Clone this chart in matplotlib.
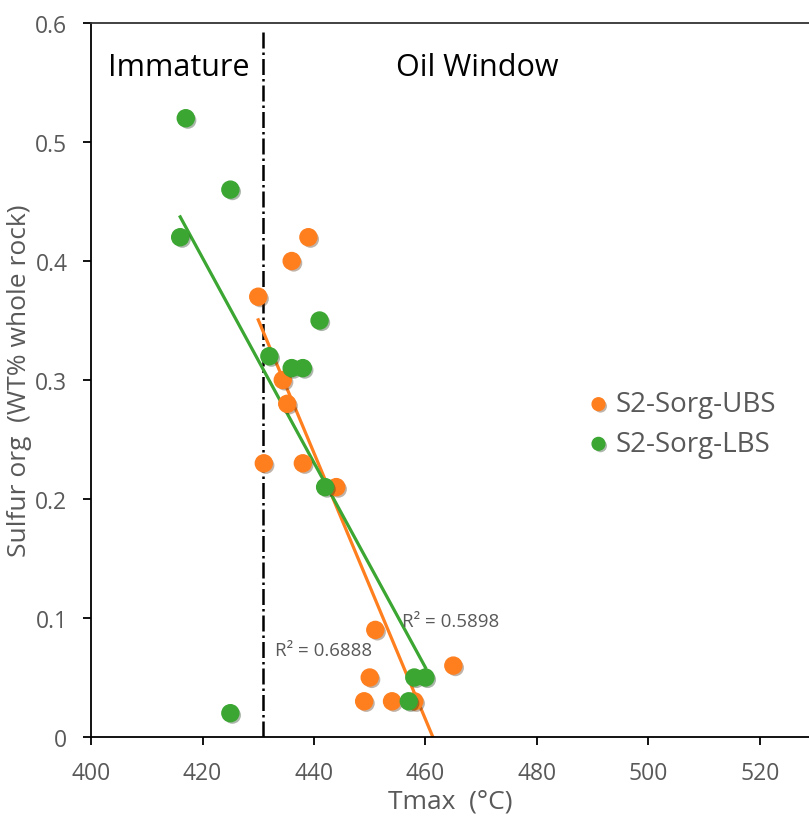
import numpy as np
import matplotlib
matplotlib.use("Agg")
import matplotlib.pyplot as plt
import matplotlib.patheffects as pe

plt.rcParams['font.family'] = ['Open Sans', 'DejaVu Sans']

# S2-Sorg-UBS (orange)
ubs_tmax = [430, 436, 439, 434.4, 435.2, 431, 438, 444, 451, 450, 449, 454, 458, 465]
ubs_sulfur = [0.37, 0.40, 0.42, 0.30, 0.28, 0.23, 0.23, 0.21, 0.09, 0.05, 0.03, 0.03, 0.03, 0.06]

# S2-Sorg-LBS (green)
lbs_tmax = [417, 425, 416, 441, 432, 436, 438, 442, 425, 458, 460, 457]
lbs_sulfur = [0.52, 0.46, 0.42, 0.35, 0.32, 0.31, 0.31, 0.21, 0.02, 0.05, 0.05, 0.03]

x_ticks = [400, 420, 440, 460, 480, 500, 520]
y_ticks = [0, 0.1, 0.2, 0.3, 0.4, 0.5, 0.6]
y_ticklabels = ['0', '0.1', '0.2', '0.3', '0.4', '0.5', '0.6']

orange = '#FF7F1E'
green = '#3BA632'
grey = '#595959'


def plotTrend(ax, x, y, color):
    """
    Linear trendline over the range of the data.
    """
    k, b = np.polyfit(x, y, 1)
    xs = np.array([min(x), max(x)])
    ax.plot(xs, k * xs + b, color=color, lw=2.3, zorder=2)


def plotChart():
    fig = plt.figure(figsize=(8.09, 8.20), dpi=100)
    ax = fig.add_axes([0.1125, 0.1, 0.8875, 0.8707])

    shadow = [pe.SimplePatchShadow(offset=(1.5, -1.5), alpha=0.35), pe.Normal()]
    ax.scatter(ubs_tmax, ubs_sulfur, s=150, color=orange, label='S2-Sorg-UBS',
               zorder=3, path_effects=shadow)
    ax.scatter(lbs_tmax, lbs_sulfur, s=150, color=green, label='S2-Sorg-LBS',
               zorder=3, path_effects=shadow)

    plotTrend(ax, ubs_tmax, ubs_sulfur, orange)
    plotTrend(ax, lbs_tmax, lbs_sulfur, green)

    # boundary between immature and oil window
    ax.plot([430.8, 430.8], [0, 0.595], color='black', lw=1.8, ls='-.', zorder=1)

    ax.text(415.8, 0.563, 'Immature', fontsize=22, ha='center', va='center', color='black')
    ax.text(469.2, 0.563, 'Oil Window', fontsize=22, ha='center', va='center', color='black')
    ax.text(433.0, 0.073, 'R² = 0.6888', fontsize=13.5, color=grey, va='center')
    ax.text(455.8, 0.0975, 'R² = 0.5898', fontsize=13.5, color=grey, va='center')

    ax.set_xlim(400, 528.8)
    ax.set_ylim(0, 0.6)
    ax.set_xticks(x_ticks)
    ax.set_yticks(y_ticks)
    ax.set_yticklabels(y_ticklabels)

    ax.spines['right'].set_visible(False)
    for side in ['left', 'bottom', 'top']:
        ax.spines[side].set_linewidth(1.3)
    ax.spines['top'].set_color('#333333')
    ax.tick_params(direction='out', length=6, width=1.3, labelsize=16.5,
                   labelcolor=grey, pad=11)

    ax.set_xlabel('Tmax  (°C)', fontsize=19, color=grey, labelpad=3)
    ax.set_ylabel('Sulfur org  (WT% whole rock)', fontsize=19, color=grey, labelpad=2)

    ax.legend(loc='center left', bbox_to_anchor=(0.672, 0.438), frameon=False,
              fontsize=20, labelcolor=grey, handletextpad=0.2, handlelength=0.8,
              markerscale=0.75, labelspacing=0.42, borderpad=0)

    fig.savefig('out.png', dpi=100)


def main():
    plotChart()


if __name__ == "__main__":
    main()
